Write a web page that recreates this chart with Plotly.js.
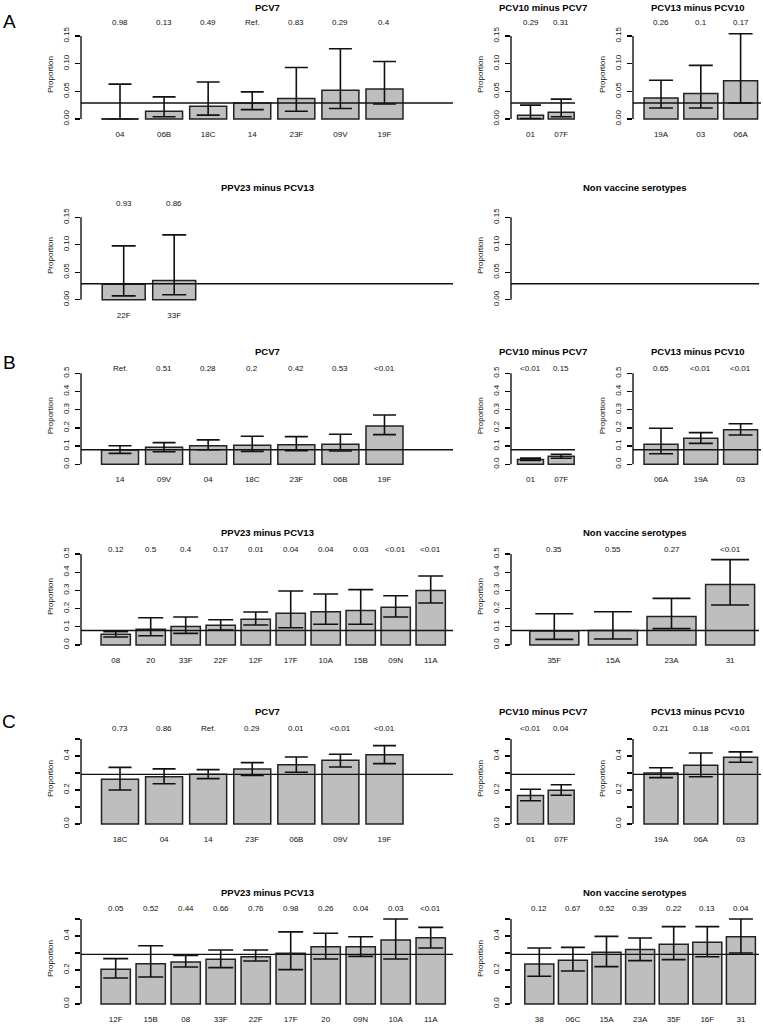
<!DOCTYPE html>
<html><head><meta charset="utf-8">
<script src="https://cdn.plot.ly/plotly-3.0.1.min.js"></script>
<style>html,body{margin:0;padding:0;background:#fff}#chart{width:763px;height:1026px}</style>
</head><body><div id="chart"></div>
<script>
// ================= DATA =================
// reference proportions (horizontal line in each panel group)
const refA = 0.029, refB = 0.080, refC = 0.292;

// y-axis ticks
const yTickA = [0, 0.05, 0.10, 0.15];
const yTextA = ['0.00', '0.05', '0.10', '0.15'];
const yTickB = [0, 0.1, 0.2, 0.3, 0.4, 0.5];
const yTextB = ['0.0', '0.1', '0.2', '0.3', '0.4', '0.5'];
const yTickC = [0, 0.1, 0.2, 0.3, 0.4, 0.5];
const yTextC = ['0.0', '', '0.2', '', '0.4', ''];

// ---- A ----
const A_pcv7_cat = ['04', '06B', '18C', '14', '23F', '09V', '19F'];
const A_pcv7_val = [0.000, 0.014, 0.023, 0.029, 0.037, 0.052, 0.054];
const A_pcv7_lo  = [0.000, 0.004, 0.007, 0.017, 0.014, 0.019, 0.027];
const A_pcv7_hi  = [0.063, 0.040, 0.067, 0.049, 0.093, 0.127, 0.104];
const A_pcv7_p   = ['0.98', '0.13', '0.49', 'Ref.', '0.83', '0.29', '0.4'];

const A_pcv10_cat = ['01', '07F'];
const A_pcv10_val = [0.007, 0.012];
const A_pcv10_lo  = [0.001, 0.004];
const A_pcv10_hi  = [0.025, 0.036];
const A_pcv10_p   = ['0.29', '0.31'];

const A_pcv13_cat = ['19A', '03', '06A'];
const A_pcv13_val = [0.038, 0.046, 0.069];
const A_pcv13_lo  = [0.020, 0.020, 0.029];
const A_pcv13_hi  = [0.070, 0.097, 0.154];
const A_pcv13_p   = ['0.26', '0.1', '0.17'];

const A_ppv23_cat = ['22F', '33F'];
const A_ppv23_val = [0.028, 0.035];
const A_ppv23_lo  = [0.007, 0.009];
const A_ppv23_hi  = [0.098, 0.118];
const A_ppv23_p   = ['0.93', '0.86'];

const A_nvt_cat = [];
const A_nvt_val = [];
const A_nvt_lo  = [];
const A_nvt_hi  = [];
const A_nvt_p   = [];

// ---- B ----
const B_pcv7_cat = ['14', '09V', '04', '18C', '23F', '06B', '19F'];
const B_pcv7_val = [0.079, 0.093, 0.102, 0.104, 0.108, 0.110, 0.210];
const B_pcv7_lo  = [0.060, 0.069, 0.080, 0.071, 0.075, 0.073, 0.163];
const B_pcv7_hi  = [0.102, 0.119, 0.134, 0.154, 0.152, 0.165, 0.271];
const B_pcv7_p   = ['Ref.', '0.51', '0.28', '0.2', '0.42', '0.53', '<0.01'];

const B_pcv10_cat = ['01', '07F'];
const B_pcv10_val = [0.027, 0.044];
const B_pcv10_lo  = [0.021, 0.033];
const B_pcv10_hi  = [0.034, 0.055];
const B_pcv10_p   = ['<0.01', '0.15'];

const B_pcv13_cat = ['06A', '19A', '03'];
const B_pcv13_val = [0.110, 0.143, 0.190];
const B_pcv13_lo  = [0.058, 0.115, 0.161];
const B_pcv13_hi  = [0.198, 0.174, 0.223];
const B_pcv13_p   = ['0.65', '<0.01', '<0.01'];

const B_ppv23_cat = ['08', '20', '33F', '22F', '12F', '17F', '10A', '15B', '09N', '11A'];
const B_ppv23_val = [0.059, 0.086, 0.101, 0.108, 0.141, 0.174, 0.183, 0.189, 0.207, 0.300];
const B_ppv23_lo  = [0.044, 0.051, 0.064, 0.082, 0.110, 0.095, 0.114, 0.114, 0.154, 0.231];
const B_ppv23_hi  = [0.073, 0.150, 0.154, 0.139, 0.181, 0.297, 0.280, 0.304, 0.271, 0.379];
const B_ppv23_p   = ['0.12', '0.5', '0.4', '0.17', '0.01', '0.04', '0.04', '0.03', '<0.01', '<0.01'];

const B_nvt_cat = ['35F', '15A', '23A', '31'];
const B_nvt_val = [0.077, 0.079, 0.156, 0.333];
const B_nvt_lo  = [0.031, 0.033, 0.090, 0.220];
const B_nvt_hi  = [0.172, 0.183, 0.256, 0.469];
const B_nvt_p   = ['0.35', '0.55', '0.27', '<0.01'];

// ---- C ----
const C_pcv7_cat = ['18C', '04', '14', '23F', '06B', '09V', '19F'];
const C_pcv7_val = [0.263, 0.278, 0.292, 0.324, 0.349, 0.375, 0.408];
const C_pcv7_lo  = [0.200, 0.237, 0.267, 0.286, 0.304, 0.335, 0.355];
const C_pcv7_hi  = [0.333, 0.324, 0.320, 0.361, 0.394, 0.410, 0.461];
const C_pcv7_p   = ['0.73', '0.86', 'Ref.', '0.29', '0.01', '<0.01', '<0.01'];

const C_pcv10_cat = ['01', '07F'];
const C_pcv10_val = [0.167, 0.198];
const C_pcv10_lo  = [0.137, 0.169];
const C_pcv10_hi  = [0.204, 0.231];
const C_pcv10_p   = ['<0.01', '0.04'];

const C_pcv13_cat = ['19A', '06A', '03'];
const C_pcv13_val = [0.300, 0.345, 0.392];
const C_pcv13_lo  = [0.273, 0.278, 0.363];
const C_pcv13_hi  = [0.331, 0.418, 0.424];
const C_pcv13_p   = ['0.21', '0.18', '<0.01'];

const C_ppv23_cat = ['12F', '15B', '08', '33F', '22F', '17F', '20', '09N', '10A', '11A'];
const C_ppv23_val = [0.204, 0.237, 0.247, 0.263, 0.278, 0.298, 0.337, 0.337, 0.376, 0.390];
const C_ppv23_lo  = [0.153, 0.159, 0.218, 0.214, 0.253, 0.202, 0.265, 0.280, 0.265, 0.329];
const C_ppv23_hi  = [0.267, 0.343, 0.285, 0.318, 0.318, 0.424, 0.416, 0.396, 0.500, 0.451];
const C_ppv23_p   = ['0.05', '0.52', '0.44', '0.66', '0.76', '0.98', '0.26', '0.04', '0.03', '<0.01'];

const C_nvt_cat = ['38', '06C', '15A', '23A', '35F', '16F', '31'];
const C_nvt_val = [0.235, 0.257, 0.304, 0.320, 0.351, 0.363, 0.396];
const C_nvt_lo  = [0.163, 0.194, 0.220, 0.255, 0.261, 0.278, 0.300];
const C_nvt_hi  = [0.329, 0.333, 0.398, 0.388, 0.455, 0.455, 0.500];
const C_nvt_p   = ['0.12', '0.67', '0.52', '0.39', '0.22', '0.13', '0.04'];

// ================= LAYOUT GEOMETRY (pixels) =================
const W = 763, H = 1026;
const FONT = 'Liberation Sans, Arial, Helvetica, sans-serif';
const COL = {L: {l: 81, r: 453}, M: {l: 511, r: 575}, R: {l: 633, r: 761}, R2: {l: 511, r: 759}};
const ROW = {
  A1: {y0: 119, yt: 36, ti: 7.5, pv: 23, M: 0.15},
  A2: {y0: 299.7, yt: 217.3, ti: 187.5, pv: 203.3, M: 0.15},
  B1: {y0: 464.3, yt: 373.3, ti: 351.7, pv: 368.3, M: 0.5},
  B2: {y0: 645, yt: 554, ti: 532.7, pv: 549, M: 0.5},
  C1: {y0: 824, yt: 739, ti: 711.7, pv: 728.3, M: 0.5},
  C2: {y0: 1004, yt: 919, ti: 892.3, pv: 908.3, M: 0.5}
};
const G7  = {c1: 120,   s: 44.08, w: 37,   cap: 11.5};
const G2  = {c1: 530.5, s: 30.7,  w: 26,   cap: 10.5};
const G3  = {c1: 661,   s: 39.8,  w: 34,   cap: 12};
const GA4 = {c1: 123.7, s: 50.5,  w: 43,   cap: 12};
const G10 = {c1: 115.7, s: 35,    w: 29.3, cap: 12.5};
const GB5 = {c1: 554.3, s: 58.6,  w: 49,   cap: 19};
const GC5 = {c1: 539.3, s: 33.6,  w: 29,   cap: 12};
const GA5 = {c1: 540,   s: 40,    w: 30,   cap: 10};

const panels = [
  {t: 'PCV7', row: 'A1', col: 'L', g: G7, cat: A_pcv7_cat, val: A_pcv7_val, lo: A_pcv7_lo, hi: A_pcv7_hi, p: A_pcv7_p, ref: refA, tv: yTickA, tt: yTextA},
  {t: 'PCV10 minus PCV7', row: 'A1', col: 'M', g: G2, cat: A_pcv10_cat, val: A_pcv10_val, lo: A_pcv10_lo, hi: A_pcv10_hi, p: A_pcv10_p, ref: refA, tv: yTickA, tt: yTextA},
  {t: 'PCV13 minus PCV10', row: 'A1', col: 'R', g: G3, cat: A_pcv13_cat, val: A_pcv13_val, lo: A_pcv13_lo, hi: A_pcv13_hi, p: A_pcv13_p, ref: refA, tv: yTickA, tt: yTextA},
  {t: 'PPV23 minus PCV13', row: 'A2', col: 'L', g: GA4, cat: A_ppv23_cat, val: A_ppv23_val, lo: A_ppv23_lo, hi: A_ppv23_hi, p: A_ppv23_p, ref: refA, tv: yTickA, tt: yTextA},
  {t: 'Non vaccine serotypes', row: 'A2', col: 'R2', g: GA5, cat: A_nvt_cat, val: A_nvt_val, lo: A_nvt_lo, hi: A_nvt_hi, p: A_nvt_p, ref: refA, tv: yTickA, tt: yTextA},
  {t: 'PCV7', row: 'B1', col: 'L', g: G7, cat: B_pcv7_cat, val: B_pcv7_val, lo: B_pcv7_lo, hi: B_pcv7_hi, p: B_pcv7_p, ref: refB, tv: yTickB, tt: yTextB},
  {t: 'PCV10 minus PCV7', row: 'B1', col: 'M', g: G2, cat: B_pcv10_cat, val: B_pcv10_val, lo: B_pcv10_lo, hi: B_pcv10_hi, p: B_pcv10_p, ref: refB, tv: yTickB, tt: yTextB},
  {t: 'PCV13 minus PCV10', row: 'B1', col: 'R', g: G3, cat: B_pcv13_cat, val: B_pcv13_val, lo: B_pcv13_lo, hi: B_pcv13_hi, p: B_pcv13_p, ref: refB, tv: yTickB, tt: yTextB},
  {t: 'PPV23 minus PCV13', row: 'B2', col: 'L', g: G10, cat: B_ppv23_cat, val: B_ppv23_val, lo: B_ppv23_lo, hi: B_ppv23_hi, p: B_ppv23_p, ref: refB, tv: yTickB, tt: yTextB},
  {t: 'Non vaccine serotypes', row: 'B2', col: 'R2', g: GB5, cat: B_nvt_cat, val: B_nvt_val, lo: B_nvt_lo, hi: B_nvt_hi, p: B_nvt_p, ref: refB, tv: yTickB, tt: yTextB},
  {t: 'PCV7', row: 'C1', col: 'L', g: G7, cat: C_pcv7_cat, val: C_pcv7_val, lo: C_pcv7_lo, hi: C_pcv7_hi, p: C_pcv7_p, ref: refC, tv: yTickC, tt: yTextC},
  {t: 'PCV10 minus PCV7', row: 'C1', col: 'M', g: G2, cat: C_pcv10_cat, val: C_pcv10_val, lo: C_pcv10_lo, hi: C_pcv10_hi, p: C_pcv10_p, ref: refC, tv: yTickC, tt: yTextC},
  {t: 'PCV13 minus PCV10', row: 'C1', col: 'R', g: G3, cat: C_pcv13_cat, val: C_pcv13_val, lo: C_pcv13_lo, hi: C_pcv13_hi, p: C_pcv13_p, ref: refC, tv: yTickC, tt: yTextC},
  {t: 'PPV23 minus PCV13', row: 'C2', col: 'L', g: G10, cat: C_ppv23_cat, val: C_ppv23_val, lo: C_ppv23_lo, hi: C_ppv23_hi, p: C_ppv23_p, ref: refC, tv: yTickC, tt: yTextC},
  {t: 'Non vaccine serotypes', row: 'C2', col: 'R2', g: GC5, cat: C_nvt_cat, val: C_nvt_val, lo: C_nvt_lo, hi: C_nvt_hi, p: C_nvt_p, ref: refC, tv: yTickC, tt: yTextC}
];

const traces = [];
const shapes = [];
const annotations = [];
const layout = {
  width: W, height: H,
  margin: {l: 0, r: 0, t: 0, b: 0},
  paper_bgcolor: '#ffffff', plot_bgcolor: 'rgba(0,0,0,0)',
  showlegend: false,
  font: {family: FONT, color: '#111', size: 8},
  bargap: 0
};

panels.forEach((P, i) => {
  const sfx = i === 0 ? '' : String(i + 1);
  const xr = 'x' + sfx, yr = 'y' + sfx;
  const R = ROW[P.row], C = COL[P.col], g = P.g;
  const M = R.M;
  const k = (R.y0 - R.yt) / M;        // px per unit
  const padB = 4, padT = 10;
  layout['yaxis' + sfx] = {
    domain: [1 - (R.y0 + padB) / H, 1 - (R.yt - padT) / H],
    range: [-padB / k, M + padT / k],
    anchor: xr,
    tickmode: 'array', tickvals: P.tv, ticktext: P.tt,
    ticks: 'outside', ticklen: 5, tickwidth: 1.3, tickcolor: '#000',
    tickangle: -90, tickfont: {size: 8, color: '#111', family: FONT},
    ticklabelstandoff: 3,
    showline: false, showgrid: false, zeroline: false, fixedrange: true,
    title: {text: 'Proportion', font: {size: 8, color: '#111', family: FONT}, standoff: 6}
  };
  const x = P.cat.map((_, j) => j + 1);
  layout['xaxis' + sfx] = {
    domain: [C.l / W, C.r / W],
    range: [1 + (C.l - g.c1) / g.s, 1 + (C.r - g.c1) / g.s],
    anchor: yr,
    tickmode: 'array', tickvals: x, ticktext: P.cat,
    ticks: '', showline: false, showgrid: false, zeroline: false, fixedrange: true,
    tickfont: {size: 8, color: '#111', family: FONT},
    ticklabelstandoff: 5
  };
  traces.push({
    type: 'bar', x: x, y: P.val, width: g.w / g.s,
    xaxis: xr, yaxis: yr,
    marker: {color: '#bebebe', line: {color: '#222', width: 1.5}},
    error_y: {
      type: 'data', symmetric: false, visible: true,
      array: P.hi.map((h, j) => h - P.val[j]),
      arrayminus: P.val.map((v, j) => v - P.lo[j]),
      color: '#111', thickness: 1.6, width: g.cap
    },
    hoverinfo: 'skip'
  });
  // y axis line (from 0 to top tick)
  shapes.push({type: 'line', xref: xr + ' domain', yref: yr, x0: 0, x1: 0, y0: 0, y1: M,
    line: {color: '#000', width: 1.3}});
  // reference line
  shapes.push({type: 'line', xref: xr + ' domain', yref: yr, x0: 0, x1: 1, y0: P.ref, y1: P.ref,
    line: {color: '#111', width: 1.4}, layer: 'above'});
  // zero-height bars are drawn as a flat line
  P.val.forEach((v, j) => {
    if (v === 0) {
      const hw = g.w / g.s / 2;
      shapes.push({type: 'line', xref: xr, yref: yr, x0: j + 1 - hw, x1: j + 1 + hw, y0: 0, y1: 0,
        line: {color: '#222', width: 1.5}});
    }
  });
  // panel title
  annotations.push({xref: xr + ' domain', yref: 'paper', x: 0.5, y: 1 - R.ti / H,
    text: '<b>' + P.t + '</b>', showarrow: false, xanchor: 'center', yanchor: 'middle',
    font: {size: 9.5, color: '#000', family: FONT}});
  // p-values
  P.p.forEach((s, j) => {
    annotations.push({xref: xr, yref: 'paper', x: j + 1, y: 1 - R.pv / H,
      text: s, showarrow: false, xanchor: 'center', yanchor: 'middle',
      font: {size: 8, color: '#111', family: FONT}});
  });
});

// panel letters
[['A', 21.5], ['B', 362.5], ['C', 721.7]].forEach(([t, y]) => {
  annotations.push({xref: 'paper', yref: 'paper', x: 9 / W, y: 1 - y / H, text: t,
    showarrow: false, xanchor: 'center', yanchor: 'middle',
    font: {size: 19, color: '#000', family: FONT}});
});

layout.shapes = shapes;
layout.annotations = annotations;

Plotly.newPlot('chart', traces, layout, {displayModeBar: false, staticPlot: true});
</script>
</body></html>
